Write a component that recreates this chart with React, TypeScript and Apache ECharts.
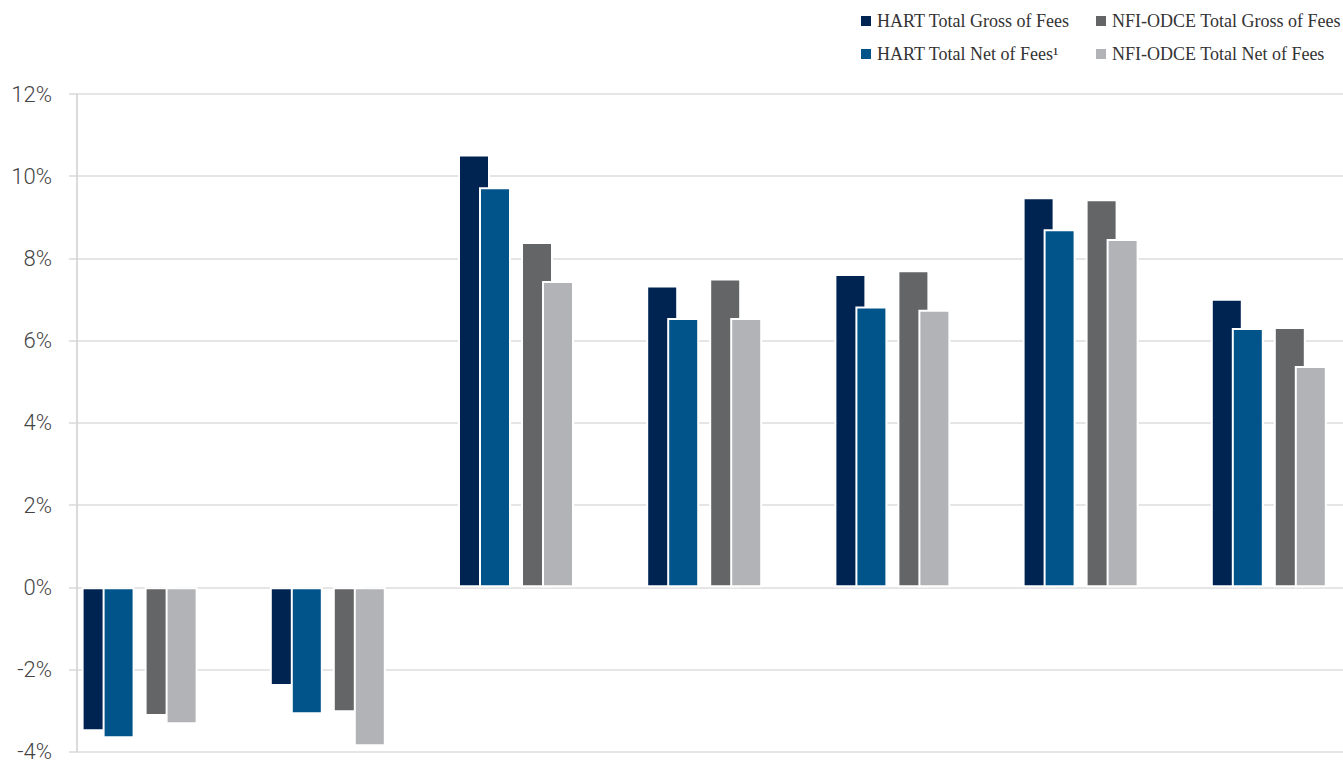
import React, { useEffect, useRef } from "react";
import * as echarts from "echarts";

const categories = ["QTD", "1 Year", "3 Year", "5 Year", "7 Year", "10 Year", "Since Inception"];
const hartGross = [-3.5, -2.4, 10.53, 7.34, 7.62, 9.49, 7.02];
const hartNet = [-3.67, -3.09, 9.73, 6.55, 6.83, 8.71, 6.31];
const odceGross = [-3.13, -3.04, 8.4, 7.51, 7.71, 9.44, 6.33];
const odceNet = [-3.33, -3.87, 7.45, 6.55, 6.75, 8.47, 5.38];
const yTicks = { min: -4, max: 12, interval: 2 };

const NAMES = [
  "HART Total Gross of Fees",
  "HART Total Net of Fees\u00b9",
  "NFI-ODCE Total Gross of Fees",
  "NFI-ODCE Total Net of Fees",
];
const COLORS = ["#002452", "#00548a", "#646567", "#b2b3b6"];

export default function App() {
  const ref = useRef<HTMLDivElement>(null);
  useEffect(() => {
    if (!ref.current) return;
    const chart = echarts.init(ref.current, undefined, { renderer: "svg" });
    const barW = 32;
    const gap = ((21 - barW) / barW) * 100 + "%";
    const bar = (name: string, data: (number | null)[], color: string) => ({
      name,
      type: "bar",
      data,
      barWidth: barW,
      barGap: gap,
      itemStyle: { color, borderColor: "#ffffff", borderWidth: 2 },
      emphasis: { disabled: true },
    });
    const empty = categories.map(() => null);
    const legendText = {
      fontFamily: "'Liberation Serif', 'Times New Roman', serif",
      fontSize: 18,
      color: "#333333",
      lineHeight: 20,
    };
    const legendBase = {
      orient: "vertical",
      top: 6,
      itemWidth: 12,
      itemHeight: 12,
      itemGap: 13,
      icon: "rect",
      selectedMode: false,
      textStyle: legendText,
    };
    chart.setOption({
      animation: false,
      legend: [
        { ...legendBase, left: 854, data: [NAMES[0], NAMES[1]] },
        { ...legendBase, left: 1089, data: [NAMES[2], NAMES[3]] },
      ],
      grid: {
        left: 77,
        top: 94,
        width: 188.2 * 7,
        bottom: 8.3,
        containLabel: false,
        outerBoundsMode: "none",
      },
      xAxis: {
        type: "category",
        data: categories,
        axisLine: { show: false },
        axisTick: { show: false },
        axisLabel: { show: false },
        splitLine: { show: false },
      },
      yAxis: {
        type: "value",
        min: yTicks.min,
        max: yTicks.max,
        interval: yTicks.interval,
        axisLine: { show: true, lineStyle: { color: "#cfcfcf", width: 1.5 } },
        axisTick: { show: true, length: 8, lineStyle: { color: "#d8d8d8", width: 1.5 } },
        splitLine: { show: true, lineStyle: { color: "#dddddd", width: 1.5 } },
        axisLabel: {
          formatter: "{value}%",
          margin: 25,
          fontFamily: "Roboto",
          fontWeight: 300,
          fontSize: 22,
          color: "#444444",
        },
      },
      series: [
        bar(NAMES[0], hartGross, COLORS[0]),
        bar(NAMES[1], hartNet, COLORS[1]),
        bar("spacer1", empty, "transparent"),
        bar(NAMES[2], odceGross, COLORS[2]),
        bar(NAMES[3], odceNet, COLORS[3]),
        bar("spacer2", empty, "transparent"),
        bar("spacer3", empty, "transparent"),
        bar("spacer4", empty, "transparent"),
      ],
    });
    return () => chart.dispose();
  }, []);
  return (
    <div
      style={{
        position: "fixed",
        left: 0,
        top: 0,
        width: 1343,
        height: 760,
        overflow: "hidden",
        background: "#ffffff",
      }}
    >
      <div ref={ref} style={{ width: 1400, height: 760 }} />
    </div>
  );
}
